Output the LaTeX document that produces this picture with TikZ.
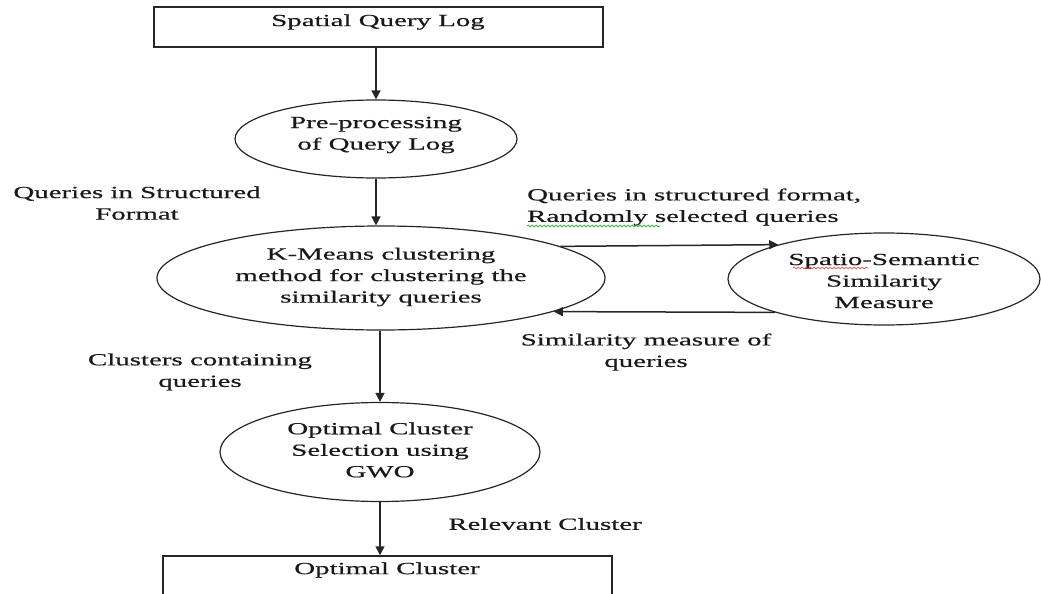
\documentclass[tikz,border=0pt]{standalone}
\usepackage{fontspec}
\setmainfont{Liberation Serif}[FakeStretch=1.7,FakeBold=0.6]
\usetikzlibrary{arrows.meta,shapes.geometric,decorations.pathmorphing}
\tikzset{
  every node/.style={font=\fontsize{17pt}{21.5pt}\selectfont, text=black!90},
  conn/.style={draw=black!85, line width=1.5pt, -{Triangle[length=9pt,width=9pt]}},
  boxshape/.style={draw=black!85, line width=1.5pt, rectangle, inner sep=0pt},
  ell/.style={draw=black!85, line width=1.2pt, ellipse, inner sep=0pt, align=center},
  lbl/.style={align=center, inner sep=0pt},
  squig/.style={decorate, decoration={snake, amplitude=0.9pt, segment length=4pt}, line width=0.6pt}
}
\begin{document}
\begin{tikzpicture}[x=1pt,y=-1pt]
\useasboundingbox (0,0) rectangle (1041,594);
% boxes
\node[boxshape, minimum width=449pt, minimum height=40pt] (top) at (378.5,27) {};
\node[lbl] (toptext) at (378,22) {Spatial Query Log};
\node[boxshape, minimum width=449pt, minimum height=80pt] (bot) at (387.5,596) {};
\node[lbl] (bottext) at (387,570) {Optimal Cluster};
% ellipses
\node[ell, minimum width=282pt, minimum height=78pt] (E1) at (376,139) {};
\node[lbl] (E1t) at (376,135) {Pre-processing\\of Query Log};
\node[ell, minimum width=448pt, minimum height=104pt] (E2) at (381,278) {};
\node[lbl] (E2t) at (381,277) {K-Means clustering\\method for clustering the\\similarity queries};
\node[ell, minimum width=312pt, minimum height=92pt] (E3) at (884,279) {};
\node[lbl] (E3t) at (884,281) {Spatio-Semantic\\Similarity\\Measure};
\node[ell, minimum width=320pt, minimum height=99pt] (E4) at (380,452) {};
\node[lbl] (E4t) at (380,450) {Optimal Cluster\\Selection using\\GWO};
% vertical connectors
\draw[conn] (top.south -| E1.north) -- (E1.north);
\draw[conn] (E1.south) -- (E1.south |- E2.north);
\draw[conn] (E2.south -| E4.north) -- (E4.north);
\draw[conn] (E4.south) -- (E4.south |- bot.north);
% horizontal connectors
\draw[conn] (E2.10.8) -- (E3.162.1);
\draw[conn] (E3.197.9) -- (E2.-11.9);
% labels
\node[lbl] (L1) at (137,203) {Queries in Structured\\Format};
\node[lbl, align=left, anchor=west] (L2) at (527,207) {Queries in structured format,\\Randomly selected queries};
\node[lbl] (L3) at (646,352) {Similarity measure of\\queries};
\node[lbl] (L4) at (200,372) {Clusters containing\\queries};
\node[lbl] (L5) at (545,524) {Relevant Cluster};
% spell-check underlines
\draw[squig, draw=green!60!black] (527,226) -- (660,226);
\draw[squig, draw=red!80] (793,268) -- (868,268);
\end{tikzpicture}
\end{document}
